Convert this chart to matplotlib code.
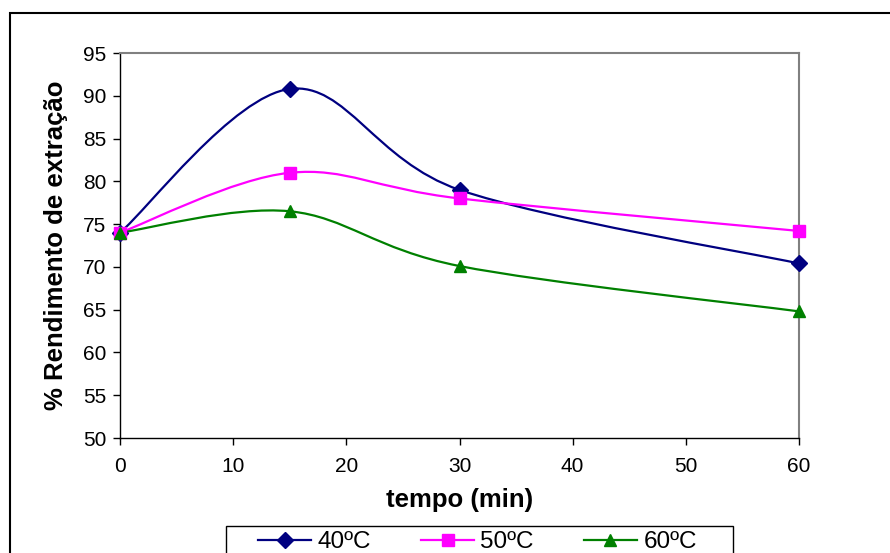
import numpy as np
import matplotlib.pyplot as plt
from matplotlib.path import Path
from matplotlib.patches import PathPatch, Rectangle
from matplotlib.lines import Line2D

plt.rcParams['font.family'] = ['Liberation Sans', 'DejaVu Sans']

tempo = [0, 15, 30, 60]
rend_40 = [74.0, 90.8, 79.0, 70.4]
rend_50 = [74.0, 81.0, 78.0, 74.2]
rend_60 = [74.0, 76.5, 70.1, 64.8]
labels = ['40ºC', '50ºC', '60ºC']
colors = ['#000080', '#FF00FF', '#008000']
markers = ['D', 's', '^']


def smooth_path(x, y):
    # Excel-style smoothed line: cubic Bezier through the points
    pts = np.column_stack([x, y]).astype(float)
    n = len(pts)
    verts = [pts[0]]
    codes = [Path.MOVETO]
    for i in range(n - 1):
        p0 = pts[max(i - 1, 0)]
        p1 = pts[i]
        p2 = pts[i + 1]
        p3 = pts[min(i + 2, n - 1)]
        c1 = p1 + (p2 - p0) / 6.0
        c2 = p2 - (p3 - p1) / 6.0
        verts += [c1, c2, p2]
        codes += [Path.CURVE4] * 3
    return Path(verts, codes)


fig = plt.figure(figsize=(8.9, 5.53), dpi=100)
W, H = 890, 553
ax = fig.add_axes([120 / W, 1 - 438 / H, (799 - 120) / W, (438 - 53) / H])

# outer chart border
fig.patches.append(Rectangle((10 / W, -0.1), 1.0, 1 - 13 / H + 0.1,
                             transform=fig.transFigure, fill=False,
                             edgecolor='black', linewidth=1.5))

handles = []
for ys, c, m, lab in zip([rend_40, rend_50, rend_60], colors, markers, labels):
    ax.add_patch(PathPatch(smooth_path(tempo, ys), facecolor='none',
                           edgecolor=c, linewidth=1.6, clip_on=False))
    ms = 8 if m == 'D' else 9
    ax.plot(tempo, ys, linestyle='none', marker=m, color=c, markersize=ms,
            clip_on=False, zorder=3)
    handles.append(Line2D([], [], color=c, linewidth=1.6, marker=m,
                          markersize=ms, label=lab))

ax.set_xlim(0, 60)
ax.set_ylim(50, 95)
ax.set_xticks(range(0, 61, 10))
ax.set_yticks(range(50, 96, 5))
ax.tick_params(labelsize=15, direction='out', length=5, width=1)
ax.tick_params(axis='y', pad=5)
ax.tick_params(axis='x', pad=9)

for s in ['top', 'right']:
    ax.spines[s].set_color('#808080')
    ax.spines[s].set_linewidth(1.5)
for s in ['left', 'bottom']:
    ax.spines[s].set_color('black')
    ax.spines[s].set_linewidth(1.0)

ax.set_xlabel('tempo (min)', fontsize=18.5, fontweight='bold')
ax.set_ylabel('% Rendimento de extração', fontsize=18.5, fontweight='bold')
ax.xaxis.label.set_verticalalignment('baseline')
ax.yaxis.label.set_verticalalignment('baseline')
ax.xaxis.set_label_coords(0.5, -(507 - 438) / 385)
ax.yaxis.set_label_coords((63 - 120) / 679, 0.5)

# legend box (runs past the bottom edge like the original)
fig.patches.append(Rectangle((226 / W, -0.1), (733 - 226) / W, 1 - 526 / H + 0.1,
                             transform=fig.transFigure, fill=False,
                             edgecolor='black', linewidth=1.0))
leg = fig.legend(handles=handles, ncol=3, loc='upper left',
                 bbox_to_anchor=(258 / W, 1 - 531 / H),
                 fontsize=17.5, frameon=False, handlelength=2.2,
                 handletextpad=0.25, columnspacing=2.05, borderpad=0,
                 borderaxespad=0)

fig.savefig('out.png', dpi=100)
